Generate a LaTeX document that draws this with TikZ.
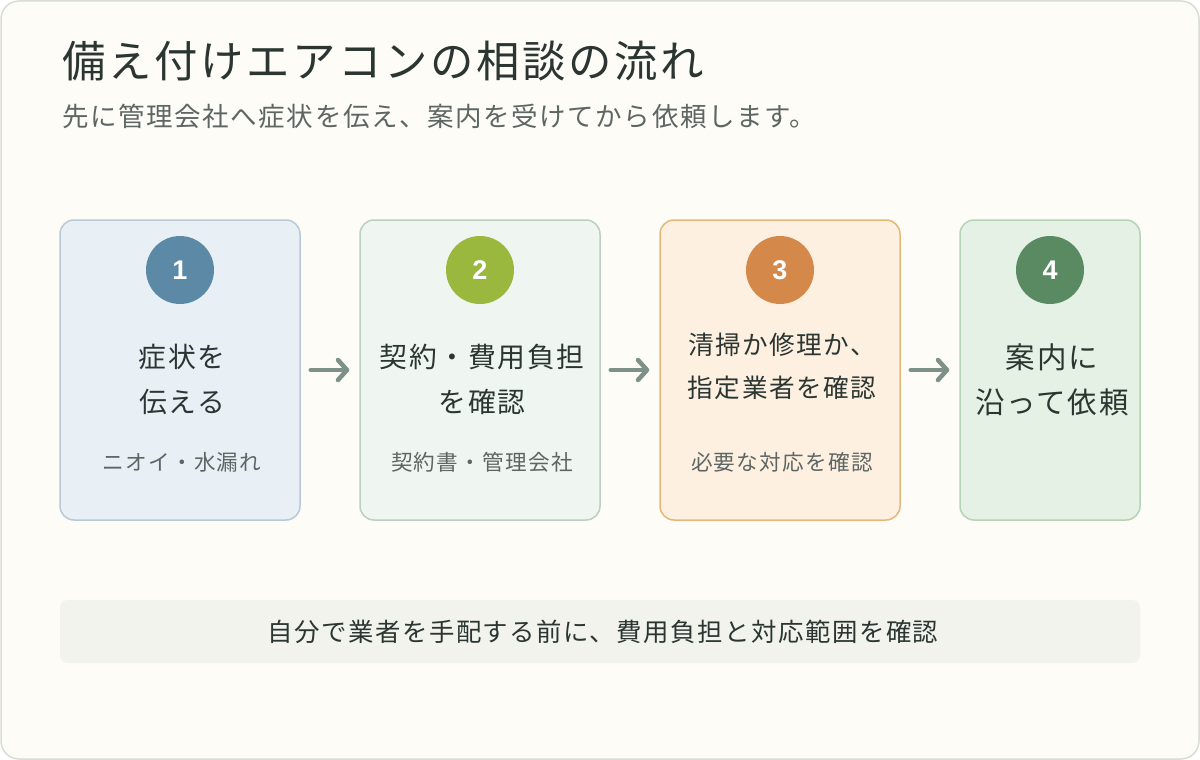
\documentclass[tikz,border=0pt]{standalone}
\usepackage{fontspec}
\setmainfont{Noto Sans CJK JP}[LetterSpace=6]
\newfontfamily\numfont{Liberation Sans}
\usetikzlibrary{arrows.meta}
\definecolor{bgc}{HTML}{FDFCF7}
\definecolor{framec}{HTML}{D8DDD5}
\definecolor{titlec}{HTML}{2B3633}
\definecolor{subc}{HTML}{5D6663}
\definecolor{fillA}{HTML}{E9F0F5}\definecolor{lineA}{HTML}{B7C9D6}\definecolor{circA}{HTML}{5B89A6}
\definecolor{fillB}{HTML}{EFF5F1}\definecolor{lineB}{HTML}{BCCFC3}\definecolor{circB}{HTML}{9AB83E}
\definecolor{fillC}{HTML}{FEF0E1}\definecolor{lineC}{HTML}{E7B679}\definecolor{circC}{HTML}{D4894A}
\definecolor{fillD}{HTML}{E6F1E5}\definecolor{lineD}{HTML}{B3D5B6}\definecolor{circD}{HTML}{5A8A62}
\definecolor{arrc}{HTML}{7D9189}
\definecolor{barc}{HTML}{F1F3EC}
\tikzset{
  card/.style={draw=#1, line width=1.5pt, rounded corners=14pt, minimum height=300pt, inner sep=0pt},
  badge/.style={circle, fill=#1, minimum size=68pt, inner sep=0pt, text=white, font=\numfont\bfseries\fontsize{27}{30}\selectfont},
  mainlbl/.style={text=titlec, font=\fontsize{27.8}{32}\selectfont, inner sep=0pt},
  smalllbl/.style={text=subc, font=\fontsize{21.6}{26}\selectfont, inner sep=0pt},
  arr/.style={draw=arrc, line width=4.5pt, line cap=round, shorten <=10pt, shorten >=10pt,
    -{Straight Barb[length=9pt, width=20pt, line width=4.5pt, round]}}
}
\begin{document}
\begin{tikzpicture}[x=1pt, y=-1pt]
\useasboundingbox (0,0) rectangle (1200,760);
\path[fill=bgc, draw=framec, line width=1.5pt, rounded corners=18pt] (1,1) rectangle (1199,759);

\node[anchor=west, text=titlec, font=\fontsize{43.4}{50}\selectfont, inner sep=0pt] (title) at (62,61) {備え付けエアコンの相談の流れ};
\node[anchor=west, text=subc, font=\fontsize{26.5}{30}\selectfont, inner sep=0pt] (sub) at (62,116) {先に管理会社へ症状を伝え、案内を受けてから依頼します。};

\node[card=lineA, fill=fillA, minimum width=240pt] (b1) at (180,370) {};
\node[card=lineB, fill=fillB, minimum width=240pt] (b2) at (480,370) {};
\node[card=lineC, fill=fillC, minimum width=240pt] (b3) at (780,370) {};
\node[card=lineD, fill=fillD, minimum width=180pt] (b4) at (1050,370) {};

\node[badge=circA] (c1) at (180,270) {1};
\node[badge=circB] (c2) at (480,270) {2};
\node[badge=circC] (c3) at (780,270) {3};
\node[badge=circD] (c4) at (1050,270) {4};

\node[mainlbl] (m1a) at (182,357) {症状を};
\node[mainlbl] (m1b) at (182,402) {伝える};
\node[mainlbl] (m2a) at (482,357) {契約・費用負担};
\node[mainlbl] (m2b) at (482,402) {を確認};
\node[mainlbl, font=\fontsize{25.6}{30}\selectfont] (m3a) at (782,345) {清掃か修理か、};
\node[mainlbl, font=\fontsize{25.6}{30}\selectfont] (m3b) at (782,388) {指定業者を確認};
\node[mainlbl, font=\fontsize{29.5}{34}\selectfont] (m4a) at (1052,357) {案内に};
\node[mainlbl, font=\fontsize{29.5}{34}\selectfont] (m4b) at (1052,402) {沿って依頼};

\node[smalllbl] (s1) at (182,462) {ニオイ・水漏れ};
\node[smalllbl] (s2) at (482,462) {契約書・管理会社};
\node[smalllbl] (s3) at (782,462) {必要な対応を確認};

\draw[arr] (b1.east) -- (b2.west);
\draw[arr] (b2.east) -- (b3.west);
\draw[arr] (b3.east) -- (b4.west);

\node[fill=barc, rounded corners=8pt, minimum width=1080pt, minimum height=63pt, inner sep=0pt] (bar) at (600,631.5) {};
\node[text=titlec, font=\fontsize{25.4}{30}\selectfont, inner sep=0pt] (bartxt) at (603,632) {自分で業者を手配する前に、費用負担と対応範囲を確認};
\end{tikzpicture}
\end{document}
